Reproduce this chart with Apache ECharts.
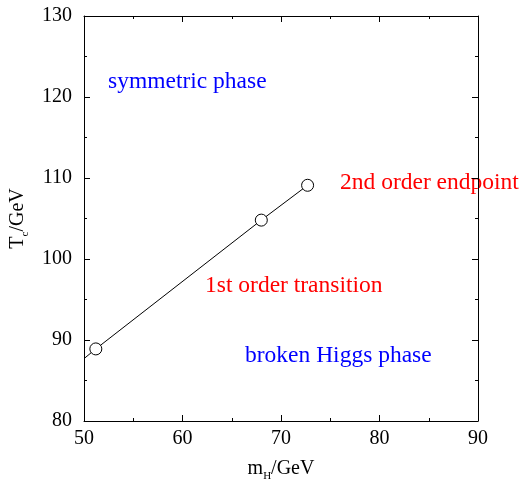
<!DOCTYPE html>
<html>
<head>
<meta charset="utf-8">
<script src="https://cdn.jsdelivr.net/npm/echarts@6/dist/echarts.min.js"></script>
<style>
  html, body { margin: 0; padding: 0; background: #fff; }
  #chart { width: 532px; height: 479px; }
</style>
</head>
<body>
<div id="chart"></div>
<script>
// Critical temperature along the first-order transition line
var higgsMass = [51.2, 68.0, 72.7];      // m_H / GeV
var critTemp  = [88.9, 104.8, 109.1];    // T_c / GeV
// the line is continued down to the left edge of the frame
var lineStart = [50, 87.7];

var xTicks = [50, 60, 70, 80, 90];
var yTicks = [80, 90, 100, 110, 120, 130];

var labels = ['symmetric phase', '2nd order endpoint', '1st order transition', 'broken Higgs phase'];

var serif = '"Liberation Serif", "DejaVu Serif", serif';

var lineData = [{ value: lineStart, symbol: 'none' }];
for (var i = 0; i < higgsMass.length; i++) {
  lineData.push({ value: [higgsMass[i], critTemp[i]] });
}

function axisBase(pos, min, max, interval) {
  return {
    type: 'value', position: pos, min: min, max: max, interval: interval,
    axisLine: { show: true, onZero: false, lineStyle: { color: '#000', width: 1 } },
    axisTick: { show: true, inside: true, length: 6, lineStyle: { color: '#000' } },
    minorTick: { show: true, splitNumber: 2, length: 3, lineStyle: { color: '#000' } },
    splitLine: { show: false },
    minorSplitLine: { show: false }
  };
}

var xMin = xTicks[0], xMax = xTicks[xTicks.length - 1];
var yMin = yTicks[0], yMax = yTicks[yTicks.length - 1];

var xBottom = axisBase('bottom', xMin, xMax, 10);
xBottom.axisLabel = { show: true, margin: 8, color: '#000', fontFamily: serif, fontSize: 20 };
xBottom.name = '{a|m}{s|H}{a|/GeV}';
xBottom.nameLocation = 'middle';
xBottom.nameGap = 35;
xBottom.nameTextStyle = {
  rich: {
    a: { fontFamily: serif, fontSize: 20, color: '#000', lineHeight: 26 },
    s: { fontFamily: serif, fontSize: 11, color: '#000', lineHeight: 26, verticalAlign: 'bottom' }
  }
};
var xTop = axisBase('top', xMin, xMax, 10);
xTop.axisLabel = { show: false };

var yLeft = axisBase('left', yMin, yMax, 10);
yLeft.axisLabel = { show: true, margin: 12, color: '#000', fontFamily: serif, fontSize: 20 };
yLeft.name = '{a|T}{s|c}{a|/GeV}';
yLeft.nameLocation = 'middle';
yLeft.nameGap = 53;
yLeft.nameTextStyle = {
  rich: {
    a: { fontFamily: serif, fontSize: 20, color: '#000', lineHeight: 26 },
    s: { fontFamily: serif, fontSize: 11, color: '#000', lineHeight: 26, verticalAlign: 'bottom' }
  }
};
var yRight = axisBase('right', yMin, yMax, 10);
yRight.axisLabel = { show: false };

function note(text, x, y, color) {
  return {
    type: 'text', left: x, top: y,
    style: { text: text, fill: color, font: '23.5px ' + serif }
  };
}

var chart = echarts.init(document.getElementById('chart'), null, { renderer: 'canvas' });
chart.setOption({
  animation: false,
  backgroundColor: '#fff',
  grid: { left: 84, top: 16, width: 394, height: 405, outerBoundsMode: 'none', containLabel: false },
  xAxis: [xBottom, xTop],
  yAxis: [yLeft, yRight],
  series: [{
    type: 'line',
    xAxisIndex: 0, yAxisIndex: 0,
    data: lineData,
    symbol: 'circle',
    symbolSize: 12,
    showAllSymbol: true,
    lineStyle: { color: '#000', width: 1 },
    itemStyle: { color: '#fff', borderColor: '#000', borderWidth: 1 },
    z: 3
  }],
  graphic: [
    note(labels[0], 108, 70, '#0000ff'),
    note(labels[1], 340, 171, '#ff0000'),
    note(labels[2], 205, 274, '#ff0000'),
    note(labels[3], 245, 344, '#0000ff')
  ]
});
</script>
</body>
</html>
